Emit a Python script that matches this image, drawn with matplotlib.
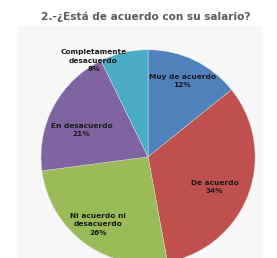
import matplotlib.pyplot as plt
from matplotlib.patches import Rectangle

categories = ['Muy de acuerdo', 'De acuerdo', 'Ni acuerdo ni\ndesacuerdo', 'En desacuerdo', 'Completamente\ndesacuerdo']
values = [14.7, 34, 26.7, 20.5, 7.5]
pct_labels = ['12%', '34%', '26%', '21%', '8%']
colors = ['#4f81bd', '#c0504d', '#9bbb59', '#8064a2', '#4bacc6']

fig = plt.figure(figsize=(2.77, 2.58), dpi=100)
fig.patch.set_facecolor('white')
fig.patches.append(Rectangle((0.065, 0.0), 0.88, 0.9, transform=fig.transFigure,
                             facecolor='#f7f7f7', edgecolor='none', zorder=-1))

fig.text(0.525, 0.935, '2.-¿Está de acuerdo con su salario?', ha='center', va='center',
         fontsize=7.6, fontweight='bold', color='#5a5a5a')

ax = fig.add_axes([0.148, -0.023, 0.773, 0.83])
wedges, _ = ax.pie(values, colors=colors, startangle=90, counterclock=False,
                   radius=1, wedgeprops=dict(linewidth=0.3, edgecolor='#dddddd'))
ax.set_xlim(-1, 1)
ax.set_ylim(-1, 1)
ax.set_aspect('equal')
ax.axis('off')

# label positions in data units
label_pos = [(0.32, 0.71), (0.62, -0.28), (-0.47, -0.63), (-0.62, 0.25), (-0.51, 0.9)]
for cat, pct, (x, y) in zip(categories, pct_labels, label_pos):
    ax.text(x, y, cat + '\n' + pct, ha='center', va='center', fontsize=5.3,
            fontweight='bold', color='#1a1a1a', linespacing=1.45, clip_on=False)

plt.savefig('out.png', dpi=100)
